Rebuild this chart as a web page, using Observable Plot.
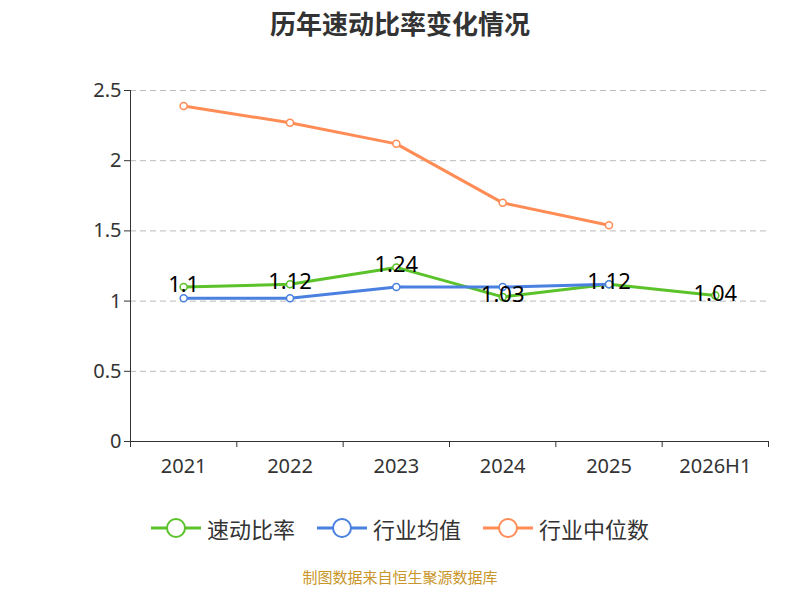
<!DOCTYPE html>
<html><head><meta charset="utf-8">
<script src="https://cdn.jsdelivr.net/npm/d3@7"></script>
<script src="https://cdn.jsdelivr.net/npm/@observablehq/plot@0.6"></script>
<style>
body{margin:0;width:800px;height:600px;font-family:"Noto Sans CJK SC","Noto Sans",sans-serif;background:#fff;overflow:hidden}
#title{height:50px;line-height:46px;text-align:center;font-size:26px;font-weight:bold;color:#333}
#legend{display:flex;justify-content:center;gap:22px;font-size:22px;color:#333;margin-top:22px}
#legend span{display:flex;align-items:center;gap:6px}
#cap{text-align:center;color:#c8962a;font-size:15px;margin-top:22px}
</style></head><body>
<div id="title">历年速动比率变化情况</div>
<div id="chart"></div>
<div id="legend"></div>
<div id="cap">制图数据来自恒生聚源数据库</div>
<script>
const years=["2021","2022","2023","2024","2025","2026H1"];
const quick=[1.1,1.12,1.24,1.03,1.12,1.04];
const industryAvg=[1.02,1.02,1.10,1.10,1.12,null];
const industryMed=[2.39,2.27,2.12,1.70,1.54,null];
const series=[
 {name:"速动比率",color:"#5bc22a",vals:quick},
 {name:"行业均值",color:"#4a80e0",vals:industryAvg},
 {name:"行业中位数",color:"#ff8c55",vals:industryMed}];
const data=[];
series.forEach(s=>s.vals.forEach((v,i)=>{if(v!=null)data.push({s:s.name,i,v});}));
const bounds=d3.range(-0.5,6,1);
const chart=Plot.plot({
 width:800,height:440,marginLeft:130,marginRight:32,marginTop:40,marginBottom:49,
 style:{fontSize:"20px",fontFamily:"Noto Sans,sans-serif",color:"#333"},
 x:{domain:[-0.5,5.5],axis:null},
 y:{domain:[0,2.5],axis:null},
 color:{domain:series.map(s=>s.name),range:series.map(s=>s.color)},
 marks:[
  Plot.ruleY([0.5,1,1.5,2,2.5],{stroke:"#bbb",strokeDasharray:"6,4"}),
  Plot.ruleY([0],{stroke:"#333"}),
  Plot.ruleX([-0.5],{stroke:"#333"}),
  Plot.axisY({ticks:[0,0.5,1,1.5,2,2.5],tickFormat:d=>String(d),tickSize:6,fontSize:20,label:null}),
  Plot.axisX({ticks:bounds,tickFormat:()=>"",tickSize:6,label:null}),
  Plot.text(years,{x:(d,i)=>i,y:0,dy:25,text:d=>d,fontSize:20,fill:"#333"}),
  Plot.line(data,{x:"i",y:"v",z:"s",stroke:"s",strokeWidth:3}),
  Plot.dot(data,{x:"i",y:"v",stroke:"s",fill:"white",r:3.5,strokeWidth:1.5}),
  Plot.text(quick,{x:(d,i)=>i,y:d=>d,text:d=>String(d),fontSize:22,fill:"#000",dy:-2})
 ]});
document.getElementById("chart").appendChild(chart);
const lg=document.getElementById("legend");
series.forEach(s=>{
 lg.insertAdjacentHTML("beforeend",`<span><svg width="50" height="24"><line x1="0" y1="12" x2="50" y2="12" stroke="${s.color}" stroke-width="3"/><circle cx="25" cy="12" r="9" fill="white" stroke="${s.color}" stroke-width="2"/></svg>${s.name}</span>`);
});
</script></body></html>
